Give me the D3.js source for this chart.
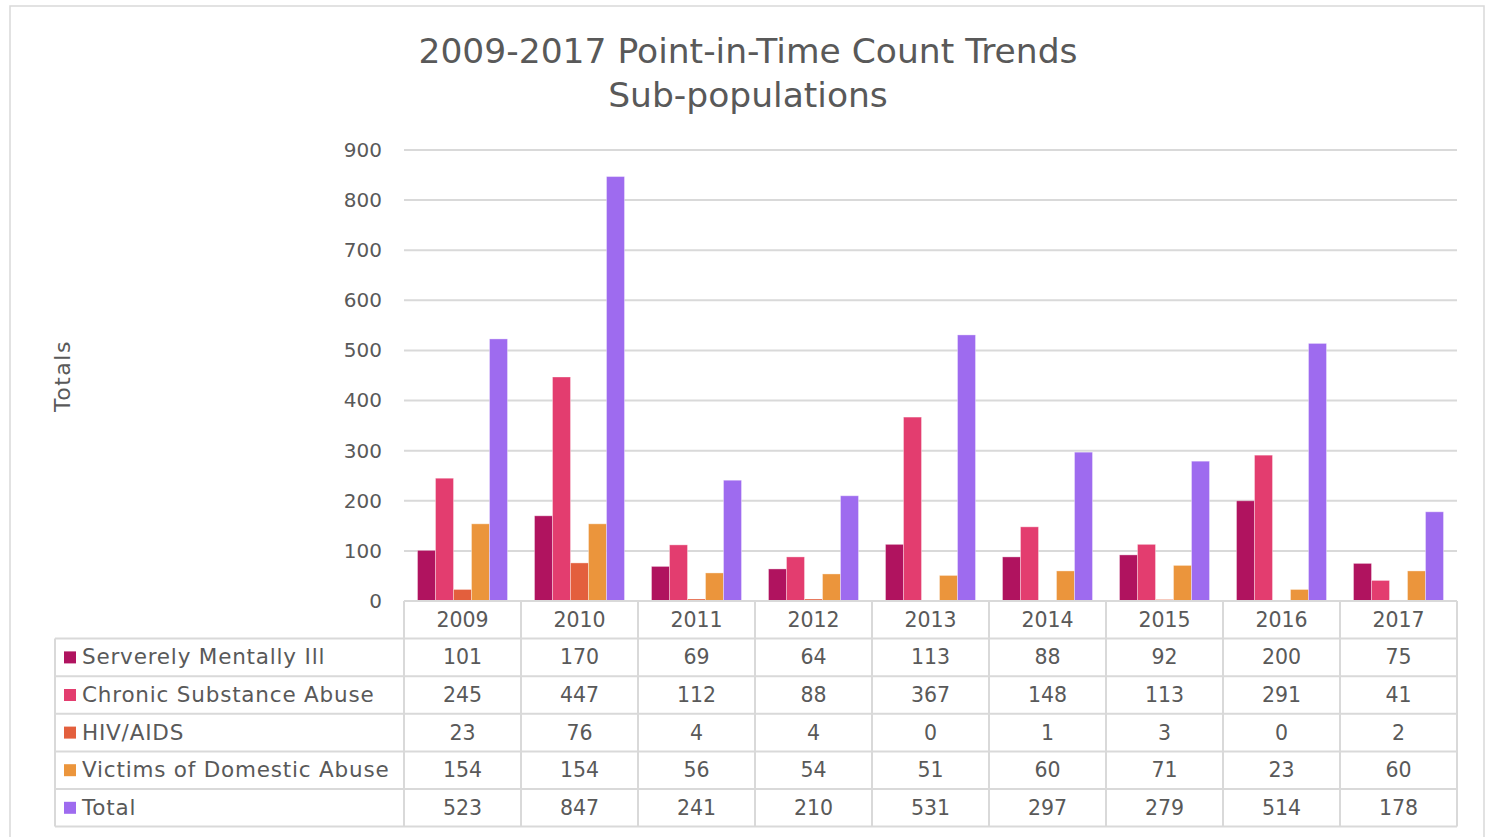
<!DOCTYPE html>
<html>
<head>
<meta charset="utf-8">
<script src="https://cdn.jsdelivr.net/npm/d3@7"></script>
<style>
  body { margin: 0; background: #fff; }
  text { font-family: "DejaVu Sans", sans-serif; fill: #595959; }
</style>
</head>
<body>
<script>
// chart data
var years = ["2009", "2010", "2011", "2012", "2013", "2014", "2015", "2016", "2017"]
var seriesNames = ["Serverely Mentally Ill", "Chronic Substance Abuse", "HIV/AIDS", "Victims of Domestic Abuse", "Total"]
var mentallyIll = [101, 170, 69, 64, 113, 88, 92, 200, 75]
var substanceAbuse = [245, 447, 112, 88, 367, 148, 113, 291, 41]
var hivAids = [23, 76, 4, 4, 0, 1, 3, 0, 2]
var domesticAbuse = [154, 154, 56, 54, 51, 60, 71, 23, 60]
var totals = [523, 847, 241, 210, 531, 297, 279, 514, 178]
var yTicks = [0, 100, 200, 300, 400, 500, 600, 700, 800, 900]
var colors = ["#B0135F", "#E33D6F", "#E35F3D", "#EB953C", "#9E6BEF"]

var allSeries = [mentallyIll, substanceAbuse, hivAids, domesticAbuse, totals]

var W = 1488, H = 837
var plotLeft = 404, plotRight = 1457, plotTop = 150, plotBottom = 601
var tableLeft = 55, rowH = 37.6

var svg = d3.select("body").append("svg")
    .attr("width", W)
    .attr("height", H)

// outer frame
svg.append("rect")
    .attr("x", 10).attr("y", 6)
    .attr("width", 1474).attr("height", 840)
    .attr("fill", "none")
    .attr("stroke", "#d9d9d9")
    .attr("stroke-width", 1.5)

// title
svg.append("text")
    .attr("x", 748).attr("y", 63)
    .attr("text-anchor", "middle")
    .style("font-size", "34.5px")
    .text("2009-2017 Point-in-Time Count Trends")
svg.append("text")
    .attr("x", 748).attr("y", 107)
    .attr("text-anchor", "middle")
    .style("font-size", "34.5px")
    .text("Sub-populations")

var x = d3.scaleBand().domain(years).range([plotLeft, plotRight])
var xInner = d3.scaleBand().domain(d3.range(5)).range([0, x.bandwidth()]).paddingOuter(0.75)
var y = d3.scaleLinear().domain([0, 900]).range([plotBottom, plotTop])

// gridlines
svg.append("g")
    .selectAll("line")
    .data(yTicks)
    .enter().append("line")
    .attr("x1", plotLeft).attr("x2", plotRight)
    .attr("y1", function(d) { return y(d) }).attr("y2", function(d) { return y(d) })
    .attr("stroke", "#d9d9d9")
    .attr("stroke-width", 2)

// y axis labels
var yAxis = svg.append("g")
    .attr("transform", "translate(" + (plotLeft - 22) + ",0)")
    .call(d3.axisLeft(y).tickValues(yTicks).tickSize(0).tickPadding(0))
yAxis.select(".domain").remove()
yAxis.selectAll("text")
    .style("font-size", "20px")
    .style("font-family", "DejaVu Sans, sans-serif")
    .attr("fill", "#595959")

svg.append("text")
    .attr("transform", "translate(70,376) rotate(-90)")
    .attr("text-anchor", "middle")
    .style("font-size", "22px")
    .style("letter-spacing", "1.5px")
    .text("Totals")

// bars
var groups = svg.append("g")
    .selectAll("g")
    .data(years)
    .enter().append("g")
    .attr("transform", function(d) { return "translate(" + x(d) + ",0)" })

groups.selectAll("rect")
    .data(function(d, i) { return allSeries.map(function(s, k) { return {k: k, v: s[i]} }) })
    .enter().append("rect")
    .attr("x", function(d) { return xInner(d.k) })
    .attr("width", xInner.bandwidth())
    .attr("y", function(d) { return y(d.v) })
    .attr("height", function(d) { return plotBottom - y(d.v) })
    .attr("fill", function(d) { return colors[d.k] })
    .attr("stroke", "#fff")
    .attr("stroke-opacity", 0.35)
    .attr("stroke-width", 1)

// data table
var table = svg.append("g")
var tableBottom = plotBottom + rowH * 6
var lineColor = "#d9d9d9"

// horizontal lines
table.selectAll(".hline")
    .data(d3.range(7))
    .enter().append("line")
    .attr("x1", function(i) { return i == 0 ? plotLeft : tableLeft })
    .attr("x2", plotRight)
    .attr("y1", function(i) { return plotBottom + i * rowH })
    .attr("y2", function(i) { return plotBottom + i * rowH })
    .attr("stroke", lineColor)
    .attr("stroke-width", 2)

// vertical lines
table.selectAll(".vline")
    .data(years.concat(["end"]))
    .enter().append("line")
    .attr("x1", function(d) { return d == "end" ? plotRight : x(d) })
    .attr("x2", function(d) { return d == "end" ? plotRight : x(d) })
    .attr("y1", plotBottom)
    .attr("y2", tableBottom)
    .attr("stroke", lineColor)
    .attr("stroke-width", 2)

table.append("line")
    .attr("x1", tableLeft).attr("x2", tableLeft)
    .attr("y1", plotBottom + rowH).attr("y2", tableBottom)
    .attr("stroke", lineColor)
    .attr("stroke-width", 2)

// year header
table.selectAll(".yr")
    .data(years)
    .enter().append("text")
    .attr("x", function(d) { return x(d) + x.bandwidth() / 2 })
    .attr("y", plotBottom + rowH / 2 + 7)
    .attr("text-anchor", "middle")
    .style("font-size", "20.5px")
    .text(function(d) { return d })

// rows
seriesNames.forEach(function(name, k) {
    var rowY = plotBottom + rowH * (k + 1)
    table.append("rect")
        .attr("x", 64).attr("y", rowY + rowH / 2 - 6)
        .attr("width", 12).attr("height", 12)
        .attr("fill", colors[k])
    table.append("text")
        .attr("x", 82).attr("y", rowY + rowH / 2 + 7)
        .style("font-size", "21.5px")
        .style("letter-spacing", "0.8px")
        .text(name)
    table.selectAll(".v" + k)
        .data(allSeries[k])
        .enter().append("text")
        .attr("x", function(d, i) { return x(years[i]) + x.bandwidth() / 2 })
        .attr("y", rowY + rowH / 2 + 7)
        .attr("text-anchor", "middle")
        .style("font-size", "20.5px")
        .text(function(d) { return d })
})
</script>
</body>
</html>
